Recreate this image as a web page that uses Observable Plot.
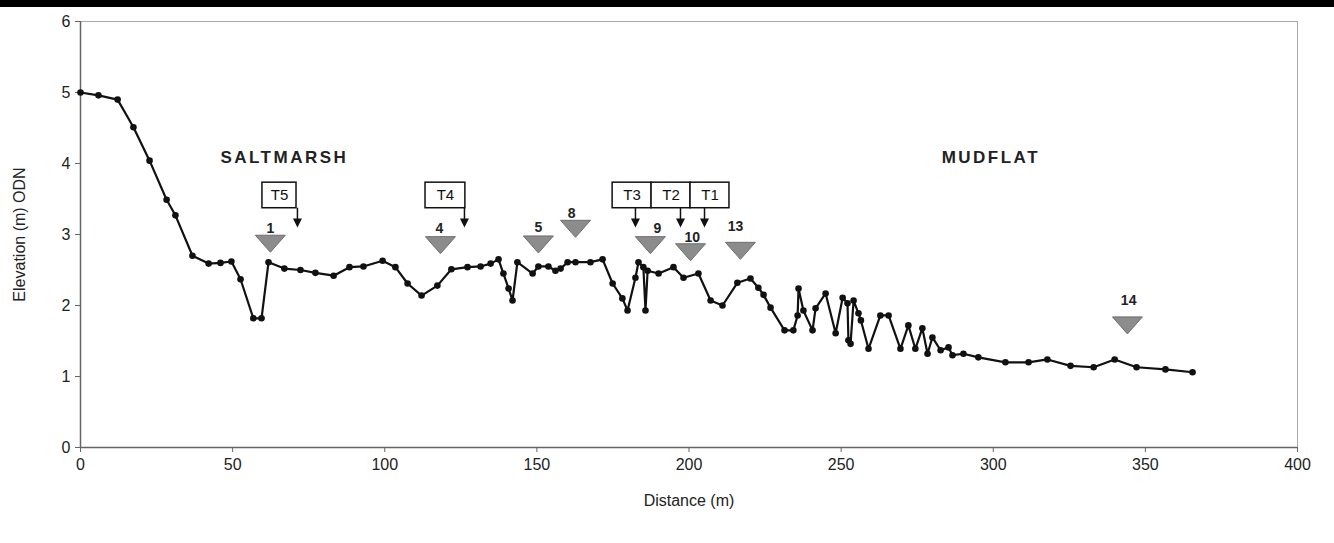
<!DOCTYPE html>
<html>
<head>
<meta charset="utf-8">
<script src="https://cdn.jsdelivr.net/npm/d3@7"></script>
<script src="https://cdn.jsdelivr.net/npm/@observablehq/plot@0.6"></script>
<style>
  html, body { margin: 0; padding: 0; background: #fff; }
  #band { height: 7px; background: #000; width: 1334px; }
  #chart svg { display: block; }
  .zone text { letter-spacing: 2.5px; }
</style>
</head>
<body>
<div id="band"></div>
<div id="chart"></div>
<script>
// Profile data
const distance = [0, 5.9, 12.2, 17.4, 22.7, 28.3, 31.2, 36.8, 42.1, 46.0, 49.6, 52.6, 56.8, 59.5, 61.8, 67.0, 72.3, 77.2, 83.2, 88.4, 93.0, 99.3, 103.5, 107.5, 112.1, 117.3, 121.9, 127.2, 131.5, 134.8, 137.4, 139.0, 140.7, 142.0, 143.6, 148.6, 150.5, 153.8, 156.1, 157.8, 160.1, 162.7, 167.6, 171.6, 174.9, 178.1, 179.8, 182.4, 183.4, 185.0, 185.7, 186.4, 190.0, 194.9, 198.2, 203.1, 207.1, 211.0, 215.9, 220.2, 222.8, 224.5, 226.8, 231.4, 234.3, 235.7, 236.0, 237.6, 240.6, 241.6, 244.9, 248.2, 250.5, 252.1, 252.4, 253.1, 254.1, 255.7, 256.5, 259.0, 262.9, 265.6, 269.5, 272.1, 274.4, 276.7, 278.4, 280.0, 282.7, 285.3, 286.6, 290.2, 295.1, 304.0, 311.6, 317.8, 325.4, 333.0, 339.9, 347.1, 356.6, 365.5];
const elevation = [5.00, 4.96, 4.90, 4.51, 4.04, 3.49, 3.27, 2.70, 2.59, 2.60, 2.62, 2.37, 1.82, 1.82, 2.61, 2.52, 2.50, 2.46, 2.42, 2.54, 2.55, 2.63, 2.54, 2.31, 2.14, 2.28, 2.51, 2.54, 2.55, 2.59, 2.65, 2.45, 2.24, 2.07, 2.61, 2.45, 2.55, 2.55, 2.49, 2.52, 2.61, 2.61, 2.61, 2.65, 2.31, 2.10, 1.93, 2.39, 2.61, 2.54, 1.93, 2.49, 2.45, 2.54, 2.39, 2.45, 2.07, 2.00, 2.32, 2.38, 2.25, 2.15, 1.97, 1.65, 1.65, 1.86, 2.24, 1.93, 1.65, 1.96, 2.17, 1.61, 2.11, 2.03, 1.51, 1.46, 2.07, 1.89, 1.79, 1.39, 1.86, 1.86, 1.39, 1.72, 1.39, 1.68, 1.32, 1.55, 1.37, 1.41, 1.30, 1.32, 1.27, 1.20, 1.20, 1.24, 1.15, 1.13, 1.24, 1.13, 1.10, 1.06];

// Numbered sample markers (grey triangles)
const markerLabels = ["1", "4", "5", "8", "9", "10", "13", "14"];
const markerX = [62.4, 118.3, 150.5, 162.7, 187.3, 200.5, 216.9, 344.1];
const markerY = [2.87, 2.85, 2.86, 3.08, 2.85, 2.75, 2.77, 1.72];
const markerLabelX = [62.4, 118.0, 150.5, 161.4, 189.6, 201.1, 215.3, 344.5];
const markerLabelY = [3.08, 3.08, 3.10, 3.30, 3.08, 2.96, 3.11, 2.07];

// Transect boxes
const boxLabels = ["T5", "T4", "T3", "T2", "T1"];
const boxLeft = [59.8, 113.4, 174.9, 187.7, 200.5];
const boxRight = [71.0, 126.5, 187.7, 200.5, 213.3];
const boxY = [3.55, 3.55, 3.55, 3.55, 3.55];
const arrowX = [71.3, 126.2, 182.4, 197.2, 205.1];

// Zone labels
const zoneLabels = ["SALTMARSH", "MUDFLAT"];
const zoneX = [67.0, 299.2];
const zoneY = [4.08, 4.08];

const xTicks = [0, 50, 100, 150, 200, 250, 300, 350, 400];
const yTicks = [0, 1, 2, 3, 4, 5, 6];

const profile = distance.map((d, i) => ({x: d, y: elevation[i]}));
const markers = markerLabels.map((l, i) => ({label: l, x: markerX[i], y: markerY[i], lx: markerLabelX[i], ly: markerLabelY[i]}));
const boxes = boxLabels.map((l, i) => ({label: l, x1: boxLeft[i], x2: boxRight[i], y: boxY[i]}));
const arrows = arrowX.map((x) => ({x}));
const zones = zoneLabels.map((l, i) => ({label: l, x: zoneX[i], y: zoneY[i]}));

const downTri = {draw(ctx) { ctx.moveTo(-15, -8.5); ctx.lineTo(15, -8.5); ctx.lineTo(0, 8.5); ctx.closePath(); }};
const arrowHead = {draw(ctx) { ctx.moveTo(-4.5, -4); ctx.lineTo(4.5, -4); ctx.lineTo(0, 5); ctx.closePath(); }};

const boxHalf = 0.18;

const chart = Plot.plot({
  width: 1334,
  height: 536,
  marginLeft: 80,
  marginRight: 37,
  marginTop: 14,
  marginBottom: 96,
  style: {fontFamily: "'Liberation Sans', Arial, sans-serif", fontSize: "16px", color: "#222", background: "#fff"},
  x: {domain: [0, 400]},
  y: {domain: [0, 6]},
  marks: [
    Plot.frame({stroke: "#aaa", strokeWidth: 1}),
    Plot.axisX({ticks: xTicks, tickFormat: "d", tickSize: 5, tickPadding: 6, label: "Distance (m)", labelAnchor: "center", labelArrow: "none", labelOffset: 58, stroke: "#666", fontSize: 16}),
    Plot.axisY({ticks: yTicks, tickFormat: "d", tickSize: 5, tickPadding: 5, label: "Elevation (m) ODN", labelAnchor: "center", labelArrow: "none", labelOffset: 67, stroke: "#666", fontSize: 16}),
    Plot.ruleX([0], {stroke: "#666", strokeWidth: 1.5}),
    Plot.ruleY([0], {stroke: "#666", strokeWidth: 1.5}),
    Plot.line(profile, {x: "x", y: "y", stroke: "#111", strokeWidth: 2.2}),
    Plot.dot(profile, {x: "x", y: "y", r: 3.3, fill: "#111", stroke: "none"}),
    Plot.dot(markers, {x: "x", y: "y", symbol: downTri, r: 10, fill: "#8c8c8c", stroke: "#6e6e6e", strokeWidth: 1}),
    Plot.text(markers, {x: "lx", y: "ly", text: "label", fontWeight: "bold", fontSize: 14, fill: "#222"}),
    Plot.rect(boxes, {x1: "x1", x2: "x2", y1: d => d.y - boxHalf, y2: d => d.y + boxHalf, fill: "#fff", stroke: "#111", strokeWidth: 1.5}),
    Plot.text(boxes, {x: d => (d.x1 + d.x2) / 2, y: "y", text: "label", fontSize: 15, fill: "#111"}),
    Plot.ruleX(arrows, {x: "x", y1: 3.37, y2: 3.2, stroke: "#111", strokeWidth: 1.5}),
    Plot.dot(arrows, {x: "x", y: 3.17, symbol: arrowHead, r: 4, fill: "#111", stroke: "none"}),
    Plot.text(zones, {x: "x", y: "y", text: "label", fontWeight: "bold", fontSize: 17, fill: "#222", className: "zone"})
  ]
});
document.getElementById("chart").appendChild(chart);
</script>
</body>
</html>
